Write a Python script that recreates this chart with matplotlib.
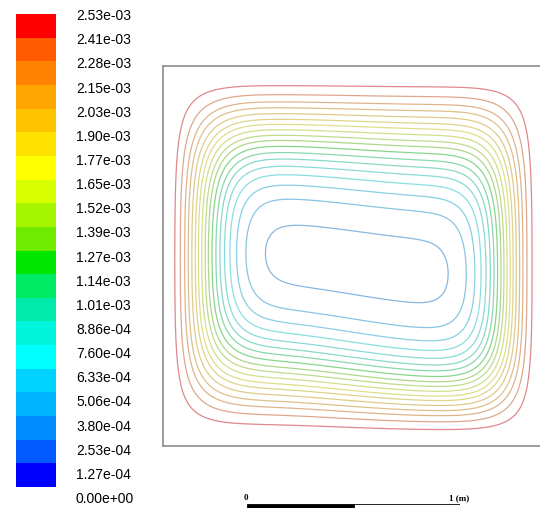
import matplotlib
matplotlib.use('Agg')
import matplotlib.pyplot as plt
import matplotlib.colors as mcolors
import numpy as np

# colour bar values (bottom -> top) and band colours
levels = [0.0, 1.27e-4, 2.53e-4, 3.80e-4, 5.06e-4, 6.33e-4, 7.60e-4, 8.86e-4,
          1.01e-3, 1.14e-3, 1.27e-3, 1.39e-3, 1.52e-3, 1.65e-3, 1.77e-3,
          1.90e-3, 2.03e-3, 2.15e-3, 2.28e-3, 2.41e-3, 2.53e-3]
band_colors = ['#0000ff', '#005aff', '#008cff', '#00b4ff', '#00d2ff',
               '#00ffff', '#00f5dc', '#00ebaa', '#00eb64', '#00e600',
               '#6eeb00', '#a5f500', '#d7ff00', '#ffff00', '#ffe100',
               '#ffc300', '#ffa500', '#ff8200', '#ff5a00', '#ff0000']

# cavity field model: wall value, depth, wall-layer widths (left, right, bottom, top)
f_wall = 2.53e-3
f_depth = 2.35e-3
widths = [0.135, 0.125, 0.213, 0.232]
tilt = [0.05, 0.20]
squareness = 0.05

plt.rcParams['font.family'] = ['Liberation Sans', 'DejaVu Sans']

fig = plt.figure(figsize=(5.4, 5.1), dpi=100)
W, H = 540.0, 510.0

def ramp(d, a):
    return 1 - np.exp(-(np.clip(d, 0, None) / a) ** 2)

x = np.linspace(0, 1, 500)
y = np.linspace(0, 1, 500)
X, Y = np.meshgrid(x, y)
t = tilt[0] + tilt[1] * (1 - Y)
Ys = Y + t * (X - 0.5) * np.sin(np.pi * X) * np.sin(np.pi * Y)
P = np.maximum(ramp(X, widths[0]) * ramp(1 - X, widths[1]), 1e-9)
Q = np.maximum(ramp(Ys, widths[2]) * ramp(1 - Ys, widths[3]), 1e-9)
comb = (P ** -squareness + Q ** -squareness - 1) ** (-1 / squareness)
F = f_wall - f_depth * comb

# thin lines look washed out in the original
grey = np.array([0.69, 0.69, 0.73])
line_colors = [tuple(0.45 * np.array(mcolors.to_rgb(c)) + 0.55 * grey) for c in band_colors]

# domain
ax = fig.add_axes([163 / W, (H - 447) / H, 380 / W, 380 / H])
ax.contour(X, Y, F, levels=levels[:-1], colors=line_colors, linewidths=0.9, alpha=0.75)
ax.set_xlim(0, 1)
ax.set_ylim(0, 1)
ax.set_xticks([])
ax.set_yticks([])
for s in ax.spines.values():
    s.set_color('#8c8c8c')
    s.set_linewidth(1.2)

# colour bar
cax = fig.add_axes([16 / W, (H - 488) / H, 40 / W, 473 / H])
nb = len(band_colors)
cax.bar(np.zeros(nb), np.ones(nb), bottom=np.arange(nb), width=1, color=band_colors)
cax.set_xlim(-0.5, 0.5)
cax.set_ylim(0, nb)
cax.axis('off')
for j, v in enumerate(levels):
    yl = -0.465 + j * 20.42 / 20
    cax.text(1.0, yl, '%.2e' % v, fontsize=10, va='center', ha='left', clip_on=False)

# scale bar
sax = fig.add_axes([247 / W, 1 / H, 213 / W, 4 / H])
sax.barh([0, 0], [0.5, 0.5], left=[0, 0.5], height=1, color=['black', 'white'],
         edgecolor='black', linewidth=0.6)
sax.set_xlim(0, 1)
sax.set_ylim(-0.5, 0.5)
sax.axis('off')
fig.text(246 / W, 1 - 498 / H, '0', fontsize=6.5, family='Liberation Serif',
         weight='bold', ha='center', va='center')
fig.text(449 / W, 1 - 498 / H, '1 (m)', fontsize=6.5, family='Liberation Serif',
         weight='bold', ha='left', va='center')

fig.savefig('out.png', dpi=100)
